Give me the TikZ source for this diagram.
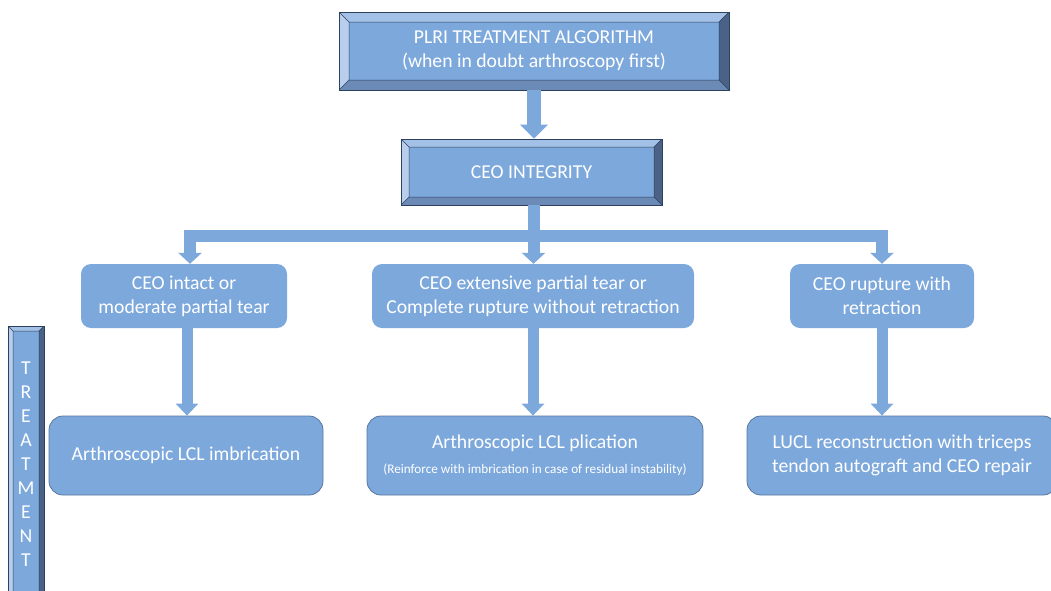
\documentclass[tikz,border=0pt]{standalone}
\usepackage{fontspec}
\setmainfont{Carlito}
\usetikzlibrary{arrows.meta, positioning}

\definecolor{face}{RGB}{124,168,220}
\definecolor{bevtop}{RGB}{163,192,230}
\definecolor{bevleft}{RGB}{184,206,236}
\definecolor{bevright}{RGB}{74,98,133}
\definecolor{bevbottom}{RGB}{108,138,182}
\definecolor{bevline}{RGB}{45,64,94}
\definecolor{boxline}{RGB}{88,118,160}

\tikzset{
	bevelbox/.style={draw=bevline, line width=0.7pt, fill=face, text=white, align=center, inner sep=0pt,
		path picture={
			\path (path picture bounding box.north west) coordinate (bvA)
				(path picture bounding box.north east) coordinate (bvB)
				(path picture bounding box.south east) coordinate (bvC)
				(path picture bounding box.south west) coordinate (bvD);
			\path ([shift={(#1,-#1)}]bvA) coordinate (bva)
				([shift={(-#1,-#1)}]bvB) coordinate (bvb)
				([shift={(-#1,#1)}]bvC) coordinate (bvc)
				([shift={(#1,#1)}]bvD) coordinate (bvd);
			\fill[bevtop] (bvA) -- (bvB) -- (bvb) -- (bva) -- cycle;
			\fill[bevright] (bvB) -- (bvC) -- (bvc) -- (bvb) -- cycle;
			\fill[bevbottom] (bvC) -- (bvD) -- (bvd) -- (bvc) -- cycle;
			\fill[bevleft] (bvD) -- (bvA) -- (bva) -- (bvd) -- cycle;
			\draw[bevline, line width=0.5pt] (bva) rectangle (bvc)
				(bvA) -- (bva) (bvB) -- (bvb) (bvC) -- (bvc) (bvD) -- (bvd);
		}},
	rowbox/.style={fill=face, text=white, rounded corners=10pt, align=center, inner sep=0pt,
		minimum height=64pt},
	treatbox/.style={draw=boxline, line width=0.8pt, fill=face, text=white, rounded corners=14pt,
		align=center, inner sep=0pt, minimum height=79pt},
	bigarrow/.style={draw=face, line width=14pt, -{Triangle[length=14pt, width=27pt]}},
	bararrow/.style={draw=face, line width=12pt, line join=miter, -{Triangle[length=11pt, width=23pt]}},
	downarrow/.style={draw=face, line width=11pt, -{Triangle[length=12pt, width=22pt]}},
}

\begin{document}
\begin{tikzpicture}[x=1pt, y=-1pt, font=\fontsize{19.7}{24}\selectfont]
	\useasboundingbox (0,0) rectangle (1051,590);
	\clip (0,0) rectangle (1051,590);

	% header
	\node[bevelbox=10pt, minimum width=390pt, minimum height=78pt] (title) at (534,51)
		{PLRI TREATMENT ALGORITHM\\(when in doubt arthroscopy first)};
	\node[bevelbox=8pt, minimum width=261pt, minimum height=66pt] (ceo) at (531.5,172)
		{CEO INTEGRITY};

	% side bar
	\node[bevelbox=5pt, minimum width=36pt, minimum height=276pt] (side) at (26,464)
		{T\\R\\E\\A\\T\\M\\E\\N\\T};

	% findings
	\node[rowbox, minimum width=206pt] (intact) at (184,296)
		{CEO intact or\\moderate partial tear};
	\node[rowbox, minimum width=322pt] (partial) at (533,296)
		{CEO extensive partial tear or\\Complete rupture without retraction};
	\node[rowbox, minimum width=184pt] (rupture) at (882,296)
		{CEO rupture with\\retraction};

	% treatments
	\node[treatbox, minimum width=274pt] (imbric) at (186,455.5)
		{Arthroscopic LCL imbrication};
	\node[treatbox, minimum width=336pt] (plic) at (535,455.5)
		{Arthroscopic LCL plication\\[1pt]
		{\fontsize{13.2}{15}\selectfont (Reinforce with imbrication in case of residual instability)}};
	\node[treatbox, minimum width=310pt] (lucl) at (902,455.5)
		{LUCL reconstruction with triceps\\tendon autograft and CEO repair};

	% connectors
	\draw[bigarrow] (title.south) -- (title.south |- ceo.north);
	\draw[draw=face, line width=12pt] ([xshift=2pt]ceo.south) -- ++(0,31) coordinate (split);
	\draw[bararrow] (split) -| ([xshift=6pt]intact.north);
	\draw[bararrow] (split) -| (rupture.north);
	\draw[bararrow] (split) -- (split |- partial.north);

	\draw[downarrow] ([xshift=3pt]intact.south) -- ([xshift=3pt]intact.south |- imbric.north);
	\draw[downarrow] (partial.south) -- (partial.south |- plic.north);
	\draw[downarrow] (rupture.south) -- (rupture.south |- lucl.north);
\end{tikzpicture}
\end{document}
